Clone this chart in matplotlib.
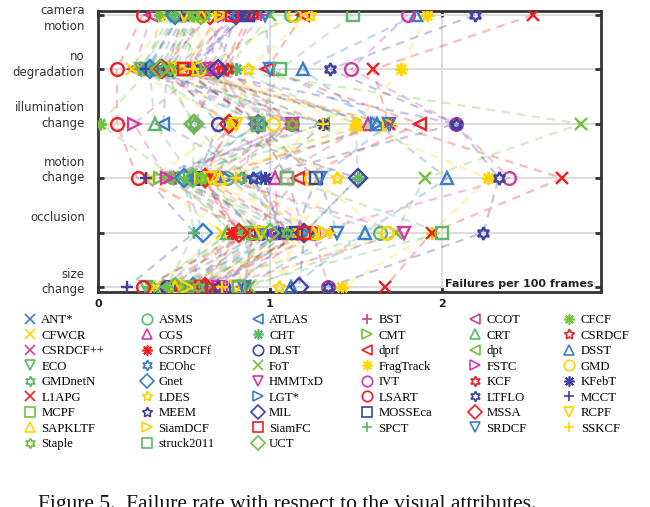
import matplotlib
matplotlib.use("Agg")
import matplotlib.pyplot as plt
from matplotlib.lines import Line2D

attributes = ['camera\nmotion', 'no\ndegradation', 'illumination\nchange',
              'motion\nchange', 'occlusion', 'size\nchange']

trackers = ['ANT*', 'ASMS', 'ATLAS', 'BST', 'CCOT', 'CFCF', 'CFWCR', 'CGS', 'CHT', 'CMT',
            'CRT', 'CSRDCF', 'CSRDCF++', 'CSRDCFf', 'DLST', 'dprf', 'dpt', 'DSST', 'ECO', 'ECOhc',
            'FoT', 'FragTrack', 'FSTC', 'GMD', 'GMDnetN', 'Gnet', 'HMMTxD', 'IVT', 'KCF', 'KFebT',
            'L1APG', 'LDES', 'LGT*', 'LSART', 'LTFLO', 'MCCT', 'MCPF', 'MEEM', 'MIL', 'MOSSEca',
            'MSSA', 'RCPF', 'SAPKLTF', 'SiamDCF', 'SiamFC', 'SPCT', 'SRDCF', 'SSKCF', 'Staple',
            'struck2011', 'UCT']

BLUE, YELLOW, MAGENTA, GREEN = '#3b7dc8', '#ffd400', '#cc3d9e', '#5cb86a'
RED, DKBLUE, LTGREEN = '#ee1f25', '#4041a0', '#74c040'
AST, HEX, PENT = (8, 2, 0), (6, 1, 0), (5, 1, 0)

tracker_colors = [BLUE, GREEN, BLUE, MAGENTA, MAGENTA, LTGREEN, YELLOW, MAGENTA, GREEN, LTGREEN,
                  GREEN, RED, MAGENTA, RED, DKBLUE, RED, LTGREEN, BLUE, GREEN, BLUE,
                  LTGREEN, YELLOW, MAGENTA, YELLOW, GREEN, BLUE, MAGENTA, MAGENTA, RED, DKBLUE,
                  RED, YELLOW, BLUE, RED, DKBLUE, DKBLUE, LTGREEN, DKBLUE, DKBLUE, DKBLUE,
                  RED, YELLOW, YELLOW, YELLOW, RED, GREEN, BLUE, YELLOW, LTGREEN,
                  GREEN, LTGREEN]
tracker_markers = ['x', 'o', '<', '+', '<', AST, 'x', '^', AST, '>',
                   '^', PENT, 'x', AST, 'o', '<', '<', '^', 'v', HEX,
                   'x', AST, '>', 'o', HEX, 'D', 'v', 'o', HEX, AST,
                   'x', PENT, '>', 'o', HEX, '+', 's', PENT, 'D', 's',
                   'D', 'v', '^', '>', 's', '+', 'v', '+', HEX,
                   's', 'D']

camera_motion = [0.55, 1.12, 0.55, 0.95, 0.31, 0.36, 0.40, 0.80, 0.62, 0.60,
                 0.47, 0.88, 0.70, 0.50, 0.60, 1.19, 0.45, 1.85, 0.42, 0.50,
                 1.00, 1.91, 0.74, 1.14, 0.50, 0.45, 0.70, 1.80, 0.90, 0.82,
                 2.53, 1.23, 0.82, 0.26, 2.19, 0.48, 0.58, 0.85, 0.80, 0.87,
                 0.65, 0.50, 0.60, 0.72, 0.78, 0.45, 0.97, 0.68, 0.55,
                 1.48, 0.60]
no_degradation = [0.35, 0.60, 0.40, 0.70, 0.21, 0.30, 0.20, 0.65, 0.80, 0.45,
                  0.30, 0.72, 0.50, 0.40, 0.42, 0.98, 0.25, 1.19, 0.25, 0.33,
                  0.75, 1.76, 0.60, 0.59, 0.38, 0.30, 0.65, 1.47, 0.75, 0.55,
                  1.60, 0.87, 0.43, 0.11, 1.35, 0.28, 0.50, 0.55, 0.70, 0.49,
                  0.37, 0.45, 0.55, 0.48, 0.50, 0.60, 1.00, 0.55, 0.42,
                  1.06, 0.36]
illumination_change = [0.93, 1.13, 0.38, 0.91, 1.13, 0.01, 0.78, 1.57, 1.50, 1.62,
                       0.33, 0.78, 1.13, 1.69, 0.70, 1.87, 1.31, 1.62, 0.78, 1.13,
                       2.81, 1.50, 0.21, 1.02, 0.56, 0.93, 1.13, 2.08, 1.13, 1.31,
                       1.69, 0.78, 1.62, 0.11, 2.08, 1.31, 0.93, 2.08, 0.56, 0.93,
                       0.76, 0.80, 1.50, 1.69, 0.93, 0.93, 1.69, 1.31, 1.13,
                       0.93, 0.56]
motion_change = [0.45, 0.75, 0.91, 0.85, 0.40, 0.45, 0.31, 1.03, 1.51, 0.36,
                 0.55, 0.60, 0.42, 0.62, 0.58, 1.16, 0.40, 2.03, 0.50, 0.55,
                 1.90, 2.27, 0.40, 1.24, 0.83, 0.50, 0.70, 2.39, 0.62, 0.97,
                 2.70, 1.39, 0.75, 0.23, 2.33, 0.28, 0.65, 0.90, 1.51, 1.27,
                 0.62, 0.65, 0.71, 0.60, 1.10, 0.50, 1.29, 0.80, 0.60,
                 1.10, 0.55]
occlusion = [1.10, 1.64, 1.00, 1.25, 0.90, 0.78, 0.72, 1.05, 1.20, 1.25,
             0.75, 0.82, 1.00, 0.78, 0.95, 0.90, 0.85, 1.55, 0.85, 0.95,
             1.73, 1.94, 1.32, 1.68, 1.10, 0.61, 1.78, 1.25, 1.15, 1.05,
             1.94, 1.15, 1.20, 0.90, 2.24, 0.56, 0.90, 1.10, 1.20, 1.15,
             0.82, 0.95, 1.25, 1.32, 1.20, 0.56, 1.39, 1.35, 1.10,
             2.00, 1.00]
size_change = [0.45, 0.55, 0.60, 0.75, 0.35, 0.30, 0.33, 0.70, 0.62, 0.50,
               0.38, 0.55, 0.52, 0.45, 0.40, 0.85, 0.40, 1.12, 0.28, 0.50,
               0.88, 1.42, 0.60, 0.80, 0.50, 0.55, 0.70, 1.34, 0.70, 0.60,
               1.67, 1.05, 0.65, 0.26, 1.34, 0.17, 0.55, 0.70, 1.17, 0.80,
               0.62, 0.80, 0.45, 0.52, 0.60, 0.40, 0.85, 0.72, 0.58,
               0.82, 0.45]

series = [camera_motion, no_degradation, illumination_change, motion_change, occlusion, size_change]
ypos = [5, 4, 3, 2, 1, 0]

fig = plt.figure(figsize=(6.5, 5.07), dpi=100)
ax = fig.add_axes([98 / 650, 1 - 292 / 507, 503 / 650, 281 / 507])

for i, name in enumerate(trackers):
    vals = [s[i] for s in series]
    ax.plot(vals, ypos, linestyle=(0, (3.8, 3.0)), color=tracker_colors[i], alpha=0.3,
            lw=1.6, zorder=2)

for i, name in enumerate(trackers):
    vals = [s[i] for s in series]
    ax.plot(vals, ypos, linestyle='none', marker=tracker_markers[i], mfc='none',
            mec=tracker_colors[i], mew=1.7, ms=9.2, zorder=3)

ax.set_xlim(0, 503 / 172)
ax.set_ylim(-5 / 54.4, 5 + 4 / 54.4)
ax.set_xticks([0, 1, 2])
ax.set_xticklabels(['0', '1', '2'], fontsize=8, fontweight='bold', color='#222222')
ax.set_yticks(ypos)
ax.set_yticklabels([''] * 6)
ax.grid(True, color='#dddddd', lw=1.5, zorder=0)
ax.set_axisbelow(True)
ax.tick_params(direction='in', top=True, right=True, length=4, width=2, color='#333333', pad=5)
for sp in ax.spines.values():
    sp.set_color('#333333')
    sp.set_linewidth(2)

label_offsets = [-0.06, 0.09, 0.15, 0.15, 0.27, 0.09]
for lab, y, off in zip(attributes, ypos, label_offsets):
    ax.annotate(lab, xy=(0, y + off), xycoords=('axes fraction', 'data'),
                xytext=(-9.5, 0), textcoords='offset points', ha='right', va='center',
                fontsize=8.5, color='#333333', linespacing=1.25, annotation_clip=False)

ax.text(0.985, 0.012, 'Failures per 100 frames', transform=ax.transAxes, ha='right',
        va='bottom', fontsize=8, fontweight='bold', color='#222222',
        bbox=dict(facecolor='white', edgecolor='none', pad=0.5), zorder=5)

handles = [Line2D([], [], linestyle='none', marker=tracker_markers[i], mfc='none',
                  mec=tracker_colors[i], mew=1.2, ms=7.5) for i in range(len(trackers))]
order = []
for cidx in range(6):
    r = 0
    while r * 6 + cidx < len(trackers):
        order.append(r * 6 + cidx)
        r += 1
leg = fig.legend([handles[k] for k in order], [trackers[k] for k in order], ncol=6,
                 loc='upper left', bbox_to_anchor=(17 / 650, 1 - 308 / 507),
                 bbox_transform=fig.transFigure, frameon=False, borderpad=0,
                 handlelength=1.0, handletextpad=0.4, columnspacing=2.85, labelspacing=0.27,
                 prop={'family': 'Liberation Serif', 'size': 9.2})

fig.text(38 / 650, -2 / 507, 'Figure 5.  Failure rate with respect to the visual attributes.',
         family='Liberation Serif', fontsize=15.5, ha='left', va='baseline', color='#111111')

fig.savefig('out.png', dpi=100)
